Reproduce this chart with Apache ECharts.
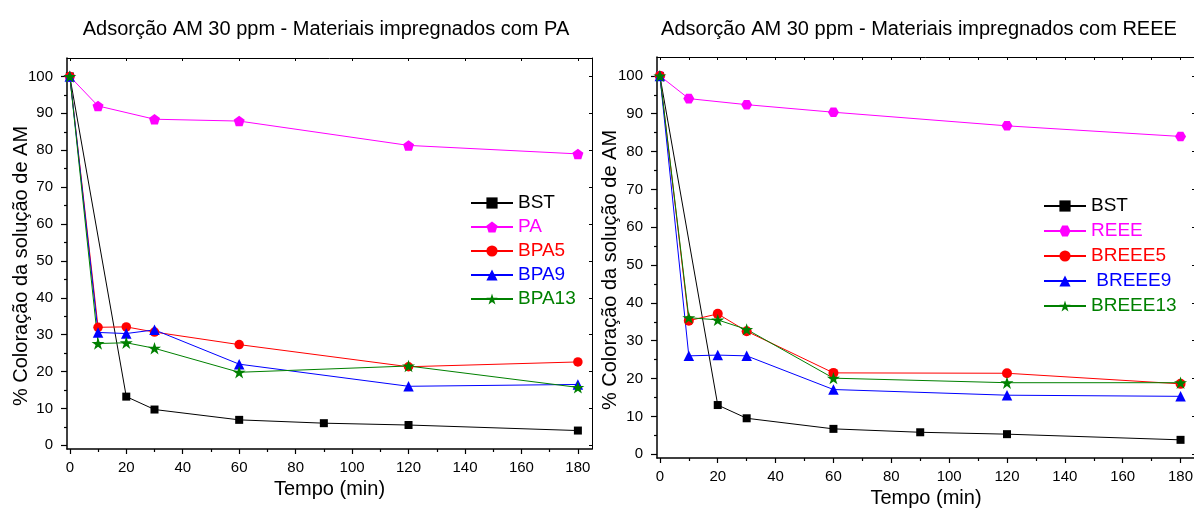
<!DOCTYPE html>
<html>
<head>
<meta charset="utf-8">
<script src="https://cdn.jsdelivr.net/npm/echarts@6/dist/echarts.min.js"></script>
<style>
  html, body { margin: 0; padding: 0; background: #fff; }
  #chart { width: 1194px; height: 510px; }
</style>
</head>
<body>
<div id="chart"></div>
<script>
const FONT = '"Liberation Sans", Arial, sans-serif';

// Text
const titlePA = 'Adsorção AM 30 ppm - Materiais impregnados com PA';
const titleREEE = 'Adsorção AM 30 ppm - Materiais impregnados com REEE';
const xTitle = 'Tempo (min)';
const yTitle = '% Coloração da solução de AM';

// Axis ticks
const xTicks = [0, 20, 40, 60, 80, 100, 120, 140, 160, 180];
const xMinorTicks = [10, 30, 50, 70, 90, 110, 130, 150, 170];
const xTopTicksRight = [0, 10, 20, 30, 40, 50, 60, 70, 80, 90, 100, 110, 120, 130, 140, 150, 160, 170, 180];
const yTicks = [0, 10, 20, 30, 40, 50, 60, 70, 80, 90, 100];
const yMinorTicks = [5, 15, 25, 35, 45, 55, 65, 75, 85, 95];

// Sampling times (min)
const tBST = [0, 20, 30, 60, 90, 120, 180];
const tPure = [0, 10, 30, 60, 120, 180];
const tMix = [0, 10, 20, 30, 60, 120, 180];

// Left panel: PA
const namesPA = ['BST', 'PA', 'BPA5', 'BPA9', 'BPA13'];
const bstPA = [100, 13.2, 9.7, 6.9, 6.0, 5.5, 4.0];
const pa = [100, 92.0, 88.4, 87.9, 81.3, 79.0];
const bpa5 = [100, 32.0, 32.1, 30.7, 27.3, 21.3, 22.6];
const bpa9 = [100, 30.6, 30.3, 31.3, 22.0, 16.0, 16.5];
const bpa13 = [100, 27.6, 27.8, 26.3, 19.8, 21.5, 15.7];

// Right panel: REEE
const namesREEE = ['BST', 'REEE', 'BREEE5', ' BREEE9', 'BREEE13'];
const bstREEE = [100, 13.0, 9.5, 6.7, 5.8, 5.3, 3.8];
const reee = [100, 94.0, 92.4, 90.4, 86.8, 84.0];
const breee5 = [100, 35.3, 37.1, 32.5, 21.5, 21.4, 18.6];
const breee9 = [100, 26.0, 26.2, 26.0, 17.1, 15.6, 15.3];
const breee13 = [100, 36.1, 35.5, 33.0, 20.1, 18.9, 18.9];

const colors = ['#000000', '#ff00ff', '#ff0000', '#0000ff', '#008000'];

const PENTAGON = 'path://M0,-100 L95.1,-30.9 L58.8,80.9 L-58.8,80.9 L-95.1,-30.9 Z';
const HEXAGON = 'path://M-100,0 L-50,-86.6 L50,-86.6 L100,0 L50,86.6 L-50,86.6 Z';
const STAR = 'path://M0,-100 L22.45,-30.9 L95.1,-30.9 L36.33,11.8 L58.8,80.9 L0,38.2 L-58.8,80.9 L-36.33,11.8 L-95.1,-30.9 L-22.45,-30.9 Z';

function pairs(times, vals) {
  return times.map((t, i) => [t, vals[i]]);
}

function lineSeries(name, times, vals, color, symbol, size, axisBase) {
  return {
    type: 'line',
    name: name,
    xAxisIndex: axisBase.x,
    yAxisIndex: axisBase.y,
    data: pairs(times, vals),
    symbol: symbol,
    symbolSize: size,
    symbolKeepAspect: true,
    showAllSymbol: true,
    color: color,
    itemStyle: { color: color },
    lineStyle: { color: color, width: 1 },
    emphasis: { disabled: true },
    animation: false
  };
}

const tickLabel = { color: '#000', fontSize: 15, fontFamily: FONT };
const black = (w) => ({ color: '#000', width: w });

function xAxes(grid, topTicks, nameGap) {
  return [
    { // main bottom axis
      gridIndex: grid, type: 'value', position: 'bottom', min: -1, max: 185,
      axisLine: { show: true, onZero: false, lineStyle: black(1.5) },
      axisTick: { show: true, inside: false, length: 5, customValues: xTicks, lineStyle: black(1.2) },
      axisLabel: { show: true, customValues: xTicks, margin: 11, ...tickLabel },
      splitLine: { show: false },
      name: xTitle, nameLocation: 'middle', nameGap: nameGap,
      nameTextStyle: { color: '#000', fontSize: 20, fontFamily: FONT }
    },
    { // minor ticks
      gridIndex: grid, type: 'value', position: 'bottom', min: -1, max: 185,
      axisLine: { show: false, onZero: false },
      axisTick: { show: true, inside: false, length: 3, customValues: xMinorTicks, lineStyle: black(1.2) },
      axisLabel: { show: false },
      splitLine: { show: false }
    },
    { // top frame
      gridIndex: grid, type: 'value', position: 'top', min: -1, max: 185,
      axisLine: { show: true, onZero: false, lineStyle: black(1) },
      axisTick: { show: true, inside: true, length: 3, customValues: topTicks, lineStyle: black(1) },
      axisLabel: { show: false },
      splitLine: { show: false }
    }
  ];
}

function yAxes(grid) {
  return [
    { // main left axis
      gridIndex: grid, type: 'value', position: 'left', min: -1, max: 105,
      axisLine: { show: true, onZero: false, lineStyle: black(1.5) },
      axisTick: { show: true, inside: false, length: 6, customValues: yTicks, lineStyle: black(1.2) },
      axisLabel: { show: true, customValues: yTicks, margin: 14, ...tickLabel },
      splitLine: { show: false }
    },
    { // minor ticks
      gridIndex: grid, type: 'value', position: 'left', min: -1, max: 105,
      axisLine: { show: false, onZero: false },
      axisTick: { show: true, inside: false, length: 3, customValues: yMinorTicks, lineStyle: black(1.2) },
      axisLabel: { show: false },
      splitLine: { show: false }
    },
    { // right frame
      gridIndex: grid, type: 'value', position: 'right', min: -1, max: 105,
      axisLine: { show: true, onZero: false, lineStyle: black(1) },
      axisTick: { show: true, inside: true, length: 3, customValues: yTicks, lineStyle: black(1) },
      axisLabel: { show: false },
      splitLine: { show: false }
    }
  ];
}

const leftAx = { x: 0, y: 0 };
const rightAx = { x: 3, y: 3 };

const series = [
  lineSeries(namesPA[0], tBST, bstPA, colors[0], 'rect', 8, leftAx),
  lineSeries(namesPA[1], tPure, pa, colors[1], PENTAGON, 11, leftAx),
  lineSeries(namesPA[2], tMix, bpa5, colors[2], 'circle', 9.5, leftAx),
  lineSeries(namesPA[3], tMix, bpa9, colors[3], 'triangle', 10.5, leftAx),
  lineSeries(namesPA[4], tMix, bpa13, colors[4], STAR, 13, leftAx),
  lineSeries(namesREEE[0], tBST, bstREEE, colors[0], 'rect', 8, rightAx),
  lineSeries(namesREEE[1], tPure, reee, colors[1], HEXAGON, 11, rightAx),
  lineSeries(namesREEE[2], tMix, breee5, colors[2], 'circle', 10, rightAx),
  lineSeries(namesREEE[3], tMix, breee9, colors[3], 'triangle', 10.5, rightAx),
  lineSeries(namesREEE[4], tMix, breee13, colors[4], STAR, 13, rightAx)
];

function legendData(names) {
  return names.map((n, i) => ({ name: n, textStyle: { color: colors[i] } }));
}

const legendBase = {
  orient: 'vertical',
  itemWidth: 42,
  itemHeight: 14,
  selectedMode: false,
  textStyle: { fontSize: 19, fontFamily: FONT, lineHeight: 20 },
  padding: 0
};

const chart = echarts.init(document.getElementById('chart'), null, { renderer: 'canvas' });
chart.setOption({
  animation: false,
  backgroundColor: '#fff',
  grid: [
    { left: 67, top: 58, width: 525, height: 391, containLabel: false, outerBoundsMode: 'none' },
    { left: 657, top: 57, width: 538, height: 401, containLabel: false, outerBoundsMode: 'none' }
  ],
  xAxis: [...xAxes(0, xTicks, 28), ...xAxes(1, xTopTicksRight, 30)],
  yAxis: [...yAxes(0), ...yAxes(1)],
  legend: [
    { ...legendBase, left: 470, top: 193, itemGap: 4, data: legendData(namesPA) },
    { ...legendBase, left: 1043, top: 196, itemGap: 5, data: legendData(namesREEE) }
  ],
  graphic: [
    { type: 'text', x: 326, y: 29, silent: true,
      style: { text: titlePA, font: '20px ' + FONT, fill: '#000', align: 'center', verticalAlign: 'middle', textAlign: 'center', textVerticalAlign: 'middle' } },
    { type: 'text', x: 919, y: 29, silent: true,
      style: { text: titleREEE, font: '20px ' + FONT, fill: '#000', align: 'center', verticalAlign: 'middle', textAlign: 'center', textVerticalAlign: 'middle' } },
    { type: 'text', x: 21, y: 266, rotation: Math.PI / 2, silent: true,
      style: { text: yTitle, font: '20px ' + FONT, fill: '#000', align: 'center', verticalAlign: 'middle', textAlign: 'center', textVerticalAlign: 'middle' } },
    { type: 'text', x: 610, y: 270, rotation: Math.PI / 2, silent: true,
      style: { text: yTitle, font: '20px ' + FONT, fill: '#000', align: 'center', verticalAlign: 'middle', textAlign: 'center', textVerticalAlign: 'middle' } }
  ],
  series: series
});
</script>
</body>
</html>
